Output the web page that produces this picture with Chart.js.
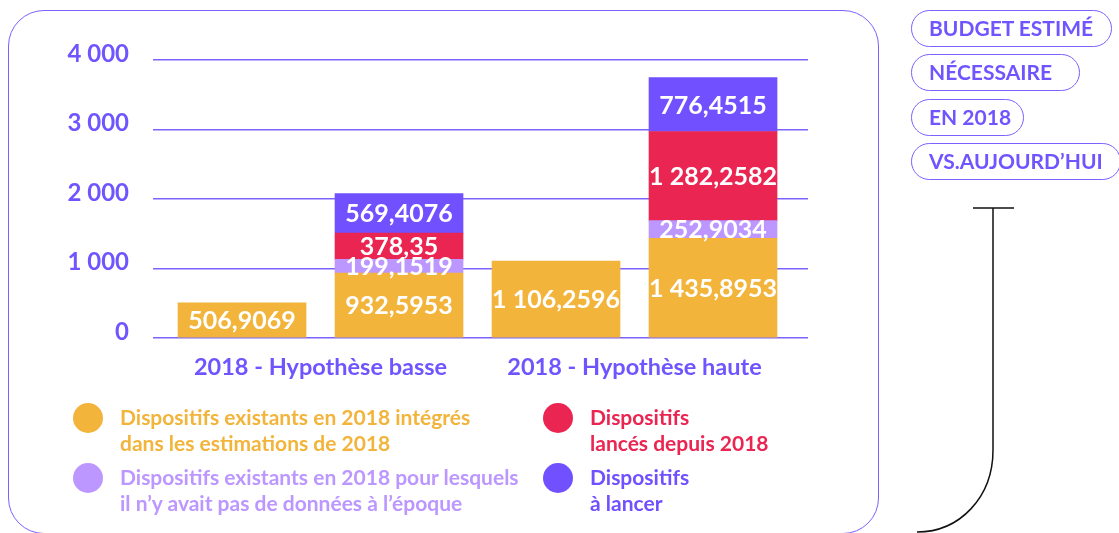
<!DOCTYPE html>
<html lang="fr">
<head>
<meta charset="utf-8">
<title>Budget estimé nécessaire en 2018</title>
<script src="https://cdn.jsdelivr.net/npm/chart.js@4"></script>
<style>
  body { margin: 0; background: #fff; overflow: hidden; }
  #wrap { position: relative; width: 1119px; height: 533px; font-family: Lato, sans-serif; font-weight: 700; }
  #frame { position: absolute; left: 8px; top: 10px; width: 871px; height: 524px; box-sizing: border-box;
           border: 1.5px solid #7B61FF; border-radius: 36px; }
  #chart { position: absolute; left: 0; top: 0; }
  .pill { position: absolute; left: 911px; height: 37px; box-sizing: border-box; border: 1.5px solid #7B61FF;
          border-radius: 19px; padding-left: 17px; color: #6F55FF; font-size: 21px; line-height: 34px; white-space: nowrap; }
  .leg { position: absolute; font-size: 21px; line-height: 26px; white-space: nowrap; }
  .dot { position: absolute; width: 30px; height: 30px; border-radius: 50%; }
  svg { position: absolute; left: 0; top: 0; }
</style>
</head>
<body>
<div id="wrap">
  <div id="frame"></div>
  <canvas id="chart" width="1119" height="533"></canvas>

  <div class="pill" style="top:10px;width:201px">BUDGET ESTIMÉ</div>
  <div class="pill" style="top:54px;width:169px">NÉCESSAIRE</div>
  <div class="pill" style="top:99px;width:113px">EN 2018</div>
  <div class="pill" style="top:143px;width:210px">VS.AUJOURD’HUI</div>

  <svg width="1119" height="533">
    <path d="M973 208 H1014 M993 208 V450 C993 497 960 532 917 532" fill="none" stroke="#111" stroke-width="1.5"/>
  </svg>

  <div class="dot" style="left:73px;top:403px;background:#F2B43A"></div>
  <div class="leg" style="left:120px;top:404px;color:#F2B43A">Dispositifs existants en 2018 intégrés<br>dans les estimations de 2018</div>
  <div class="dot" style="left:73px;top:463px;background:#BC97FF"></div>
  <div class="leg" style="left:120px;top:464px;color:#BC97FF">Dispositifs existants en 2018 pour lesquels<br>il n’y avait pas de données à l’époque</div>
  <div class="dot" style="left:543px;top:403px;background:#EB2551"></div>
  <div class="leg" style="left:590px;top:404px;color:#EB2551">Dispositifs<br>lancés depuis 2018</div>
  <div class="dot" style="left:543px;top:463px;background:#7150FF"></div>
  <div class="leg" style="left:590px;top:464px;color:#7150FF">Dispositifs<br>à lancer</div>
</div>

<script>
// two scenarios, two bars each (2018 estimate, then today's breakdown)
const groupLabels = ['2018 - Hypothèse basse', '2018 - Hypothèse haute'];
const barSlots = [0, 1, 2, 3];
const existants = [506.9069, 932.5953, 1106.2596, 1435.8953];
const sansDonnees = [null, 199.1519, null, 252.9034];
const lances = [null, 378.35, null, 1282.2582];
const aLancer = [null, 569.4076, null, 776.4515];
const yTicks = [0, 1000, 2000, 3000, 4000];

const violet = '#6F55FF';

function fmt(v) {
  const parts = String(v).split('.');
  const ent = parts[0].replace(/\B(?=(\d{3})+(?!\d))/g, ' ');
  return parts[1] ? ent + ',' + parts[1] : ent;
}

function points(values) {
  return barSlots.map((x, i) => ({ x: x, y: values[i] })).filter(p => p.y !== null);
}

// white value written in the middle of every segment
const valueLabels = {
  id: 'valueLabels',
  afterDatasetsDraw(chart) {
    const ctx = chart.ctx;
    ctx.save();
    ctx.fillStyle = '#fff';
    ctx.font = '700 25px Lato';
    ctx.textAlign = 'center';
    ctx.textBaseline = 'middle';
    chart.data.datasets.forEach((ds, di) => {
      chart.getDatasetMeta(di).data.forEach((bar, i) => {
        ctx.fillText(fmt(ds.data[i].y), bar.x, (bar.y + bar.base) / 2 + 1);
      });
    });
    ctx.restore();
  }
};

new Chart('chart', {
  type: 'bar',
  data: {
    datasets: [
      { label: 'Dispositifs existants en 2018 intégrés dans les estimations de 2018', data: points(existants), backgroundColor: '#F2B43A' },
      { label: 'Dispositifs existants en 2018 pour lesquels il n’y avait pas de données à l’époque', data: points(sansDonnees), backgroundColor: '#BC97FF' },
      { label: 'Dispositifs lancés depuis 2018', data: points(lances), backgroundColor: '#EB2551' },
      { label: 'Dispositifs à lancer', data: points(aLancer), backgroundColor: '#7150FF' }
    ]
  },
  options: {
    responsive: false,
    animation: false,
    barThickness: 128,
    layout: { padding: { left: 0, right: 311, top: 60, bottom: 0 } },
    plugins: { legend: { display: false }, tooltip: { enabled: false } },
    scales: {
      x: {
        type: 'linear',
        stacked: true,
        offset: false,
        min: -0.567,
        max: 3.605,
        grid: { display: false, drawTicks: false },
        border: { display: false },
        afterBuildTicks: s => { s.ticks = [{ value: 0.5 }, { value: 2.5 }]; },
        afterFit: s => { s.height = 195; },
        ticks: {
          color: violet,
          font: { family: 'Lato', size: 23.5, weight: '700' },
          padding: 15,
          maxRotation: 0,
          autoSkip: false,
          callback: v => groupLabels[Math.round((v - 0.5) / 2)]
        }
      },
      y: {
        stacked: true,
        min: 0,
        max: 4000,
        afterBuildTicks: s => { s.ticks = yTicks.map(v => ({ value: v })); },
        afterFit: s => { s.width = 153; },
        grid: { color: '#7B63FF', lineWidth: 1.5, drawTicks: false },
        border: { display: false },
        ticks: {
          color: violet,
          font: { family: 'Lato', size: 24, weight: '700' },
          padding: 24,
          labelOffset: -6,
          callback: v => fmt(v)
        }
      }
    }
  },
  plugins: [valueLabels]
});
</script>
</body>
</html>
